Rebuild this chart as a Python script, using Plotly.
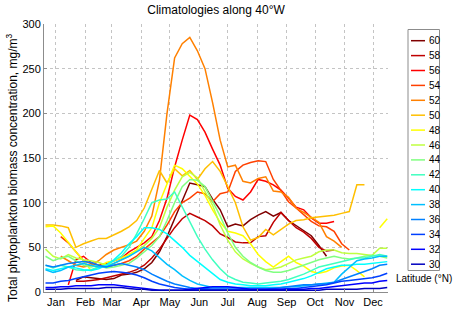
import plotly.graph_objects as go

N = None
months = ["Jan", "Feb", "Mar", "Apr", "May", "Jun", "Jul", "Aug", "Sep", "Oct", "Nov", "Dec"]
month_days = [15, 46, 74, 105, 135, 166, 196, 227, 258, 288, 319, 349]
period_days = [4 + 8 * k for k in range(46)]  # 8-day composites
y_ticks = [0, 50, 100, 150, 200, 250, 300]

latitudes = [60, 58, 56, 54, 52, 50, 48, 46, 44, 42, 40, 38, 36, 34, 32, 30]

lat60 = [N, N, N, N, 13, 17, 16, 15, 14, 15,
         19, 20, 22, 26, 33, 45, 62, 82, 102, 122,
         120, 118, 104, 92, 73, 76, 74, 81, 86, 90,
         85, 89, 80, 74, 69, 63, 52, 40, N, N,
         N, N, N, N, N, N]
lat58 = [N, N, N, N, 12, 12, 13, 14, 16, 18,
         20, 22, 25, 30, 38, 48, 60, 72, 82, 88,
         84, 80, 74, 65, 61, 56, 55, 55, 62, 63,
         78, 89, 80, 72, 67, 60, 50, 46, 47, N,
         N, N, N, N, N, N]
lat56 = [N, N, N, 8, 36, 40, 33, 30, 32, 35,
         38, 45, 50, 55, 62, 80, 105, 140, 170, 198,
         193, 179, 160, 142, 116, 107, 103, 112, 126, 124,
         120, 114, 105, 95, 92, 83, 77, 77, 79, N,
         N, N, N, N, N, N]
lat54 = [N, N, 62, 55, 45, 35, 32, 30, 28, 30,
         32, 35, 40, 48, 55, 62, 75, 90, 100, 105,
         112, 110, 101, 110, 112, 135, 142, 145, 147, 146,
         126, 113, 101, 94, 86, 79, 74, 73, 68, 54,
         47, N, N, N, N, N]
lat52 = [N, N, 40, 35, 30, 28, 30, 35, 42, 47,
         50, 53, 57, 68, 85, 125, 200, 262, 278, 285,
         270, 250, 212, 170, 140, 142, 124, 122, 127, 129,
         113, 112, 106, 94, 89, 83, 78, 62, 57, 50,
         N, N, N, N, N, N]
lat50 = [75, 75, 74, 72, 50, 54, 57, 60, 60, 64,
         68, 73, 80, 94, 114, 136, 122, 138, 130, 136,
         126, 138, 146, 135, 118, 100, 73, 58, 61, 70,
         64, 70, 76, 80, 81, 83, 84, 85, 86, 88,
         90, 120, 120, N, N, N]
lat48 = [73, 74, 66, 55, 45, 35, 24, 28, 33, 35,
         38, 42, 47, 60, 72, 100, 120, 142, 138, 130,
         121, 108, 92, 78, 68, 66, 63, 54, 42, 34,
         28, 34, 40, 33, 29, 23, 21, 23, 27, 29,
         30, 24, 17, N, 72, 82]
lat46 = [48, 40, 37, 42, 38, 36, 35, 33, 30, 32,
         36, 40, 46, 52, 60, 72, 95, 114, 129, 134,
         128, 112, 97, 75, 58, 45, 37, 32, 28, 25,
         26, 28, 32, 36, 38, 40, 45, 47, 47, 44,
         43, 43, 42, 41, 49, 49]
lat44 = [40, 35, 38, 40, 35, 30, 28, 30, 27, 28,
         30, 32, 38, 45, 52, 62, 80, 100, 118, 126,
         125, 118, 102, 85, 66, 50, 40, 33, 28, 24,
         22, 22, 24, 27, 30, 33, 36, 38, 40, 38,
         37, 38, 40, 41, 40, 38]
lat42 = [30, 27, 30, 28, 25, 24, 25, 28, 30, 35,
         40, 50, 65, 82, 100, 103, 104, 112, 95, 78,
         62, 48, 36, 26, 18, 14, 11, 10, 9, 10,
         11, 12, 14, 17, 20, 24, 28, 30, 32, 34,
         36, 38, 38, 40, 42, 40]
lat40 = [26, 24, 26, 28, 27, 25, 24, 26, 30, 36,
         44, 54, 62, 72, 72, 70, 65, 58, 50, 41,
         34, 27, 20, 14, 11, 9, 8, 7, 7, 7,
         8, 9, 11, 13, 15, 18, 22, 26, 28, 30,
         30, 31, 31, 32, 33, 34]
lat38 = [25, 22, 24, 28, 30, 32, 30, 28, 28, 32,
         36, 40, 45, 50, 46, 38, 31, 25, 18, 13,
         9, 7, 5, 5, 5, 5, 5, 5, 5, 5,
         5, 5, 6, 6, 7, 8, 9, 10, 11, 20,
         28, 35, 37, 38, 40, 40]
lat36 = [30, 28, 30, 32, 33, 34, 33, 30, 28, 30,
         32, 30, 28, 25, 20, 16, 12, 9, 7, 5,
         4, 4, 3, 3, 3, 3, 3, 3, 3, 3,
         4, 5, 6, 7, 8, 8, 9, 9, 11, 14,
         17, 20, 23, 26, 30, 31]
lat34 = [10, 10, 12, 13, 15, 17, 19, 21, 22, 23,
         22, 21, 19, 16, 12, 9, 7, 5, 4, 3,
         3, 3, 3, 3, 3, 3, 3, 3, 3, 3,
         3, 3, 4, 4, 5, 6, 7, 8, 10, 12,
         13, 14, 15, 16, 18, 21]
lat32 = [5, 5, 6, 6, 7, 7, 7, 8, 8, 8,
         7, 6, 5, 4, 3, 2, 2, 2, 2, 3,
         4, 5, 6, 6, 6, 5, 4, 3, 3, 3,
         3, 3, 3, 3, 3, 4, 4, 5, 6, 7,
         8, 9, 10, 10, 12, 13]
lat30 = [3, 3, 3, 4, 4, 4, 4, 4, 5, 5,
         5, 4, 3, 3, 2, 2, 2, 2, 2, 2,
         2, 2, 2, 2, 2, 2, 2, 2, 2, 2,
         2, 2, 2, 2, 2, 2, 2, 3, 3, 3,
         3, 3, 4, 4, 4, 5]

series = [lat60, lat58, lat56, lat54, lat52, lat50, lat48, lat46,
          lat44, lat42, lat40, lat38, lat36, lat34, lat32, lat30]

colors = ["rgb(128,0,0)", "rgb(191,0,0)", "rgb(255,0,0)", "rgb(255,64,0)",
          "rgb(255,128,0)", "rgb(255,191,0)", "rgb(255,255,0)", "rgb(191,255,64)",
          "rgb(128,255,128)", "rgb(64,255,191)", "rgb(0,255,255)", "rgb(0,191,255)",
          "rgb(0,128,255)", "rgb(0,64,255)", "rgb(0,0,255)", "rgb(0,0,191)"]

FONT = "Liberation Sans, Arial, sans-serif"

fig = go.Figure()
for lat, vals, col in zip(latitudes, series, colors):
    fig.add_trace(go.Scatter(x=period_days, y=vals, mode="lines", name=str(lat),
                             line=dict(color=col, width=1.5), connectgaps=False,
                             showlegend=False, hoverinfo="skip"))

# plot-area geometry in pixels (for the hand-drawn legend)
L, R, T, B = 44, 388, 24, 292
def px(x):
    return (x - L) / (R - L)
def py(y):
    return (B - y) / (B - T)

shapes = [dict(type="rect", xref="paper", yref="paper",
               x0=px(408), x1=px(439.5), y0=py(29.5), y1=py(270.5),
               line=dict(color="#8c8c8c", width=1), fillcolor="white")]
annotations = []
for i, (lat, col) in enumerate(zip(latitudes, colors)):
    yy = 40.7 + 14.9 * i
    shapes.append(dict(type="line", xref="paper", yref="paper",
                       x0=px(411), x1=px(425), y0=py(yy), y1=py(yy),
                       line=dict(color=col, width=1.5)))
    annotations.append(dict(text=str(lat), xref="paper", yref="paper",
                            x=px(426.5), y=py(yy), xanchor="left", yanchor="middle",
                            showarrow=False, font=dict(size=10, color="black", family=FONT)))
annotations.append(dict(text="Latitude (°N)", xref="paper", yref="paper",
                        x=px(423.5), y=py(278.5), xanchor="center", yanchor="middle",
                        showarrow=False, font=dict(size=10, color="black", family=FONT)))
annotations.append(dict(text="Total phytoplankton biomass concentration, mg/m<sup>3</sup>",
                        xref="paper", yref="paper", x=px(12), y=py(168),
                        xanchor="center", yanchor="middle", textangle=-90,
                        showarrow=False, font=dict(size=12, color="black", family=FONT)))

fig.update_layout(
    width=454, height=312,
    margin=dict(l=L, r=454 - R, t=T, b=312 - B, pad=0),
    paper_bgcolor="white", plot_bgcolor="white",
    font=dict(family=FONT, size=11, color="black"),
    title=dict(text="Climatologies along 40°W", x=0.5, xref="paper", xanchor="center",
               y=1 - 9.5 / 312, yref="container", yanchor="middle",
               font=dict(size=12, color="black", family=FONT)),
    shapes=shapes, annotations=annotations, showlegend=False, hovermode=False,
)
fig.update_xaxes(range=[2.4, 364.8], tickmode="array", tickvals=month_days, ticktext=months,
                 showgrid=True, gridcolor="#c4c4c4", griddash="dot", gridwidth=1,
                 showline=True, linecolor="#8c8c8c", linewidth=1,
                 ticks="inside", ticklen=3, tickcolor="#8c8c8c", zeroline=False,
                 automargin=False, tickfont=dict(size=11, color="black"))
fig.update_yaxes(range=[0, 300], tickmode="array", tickvals=y_ticks,
                 showgrid=True, gridcolor="#c4c4c4", griddash="dot", gridwidth=1,
                 showline=True, linecolor="#8c8c8c", linewidth=1,
                 ticks="inside", ticklen=3, tickcolor="#8c8c8c", zeroline=False,
                 automargin=False, tickfont=dict(size=11, color="black"))

fig.write_html("out.html", config={"displayModeBar": False, "staticPlot": True},
               post_script="document.body.style.margin='0px';document.body.style.padding='0px';")
